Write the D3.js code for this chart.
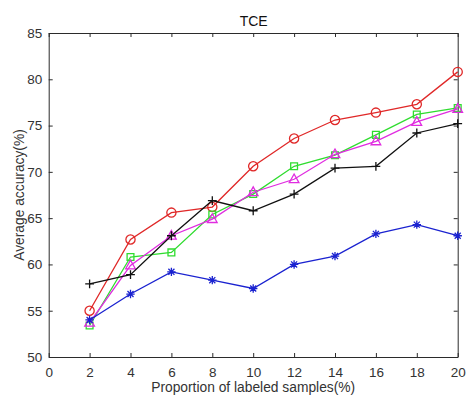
<!DOCTYPE html>
<html>
<head>
<meta charset="utf-8">
<script src="https://cdn.jsdelivr.net/npm/d3@7/dist/d3.min.js"></script>
<style>
  html, body { margin: 0; padding: 0; background: #fff; }
  svg { display: block; font-family: "Liberation Sans", Arial, sans-serif; }
</style>
</head>
<body>
<svg id="chart" width="468" height="399"></svg>
<script>
// Proportion of labeled samples (%)
const proportions = [2, 4, 6, 8, 10, 12, 14, 16, 18, 20];

// Average accuracy (%) for each method
const seriesRed     = [55.0, 62.7, 65.6, 66.2, 70.6, 73.6, 75.6, 76.4, 77.3, 80.8];
const seriesGreen   = [53.4, 60.8, 61.3, 65.4, 67.6, 70.6, 71.8, 74.0, 76.2, 76.9];
const seriesMagenta = [53.7, 59.9, 63.1, 64.9, 67.8, 69.2, 71.9, 73.3, 75.4, 76.8];
const seriesBlack   = [57.9, 58.9, 63.1, 66.9, 65.8, 67.6, 70.4, 70.6, 74.2, 75.2];
const seriesBlue    = [54.0, 56.8, 59.2, 58.3, 57.4, 60.0, 60.9, 63.3, 64.3, 63.1];

const xTicks = [0, 2, 4, 6, 8, 10, 12, 14, 16, 18, 20];
const yTicks = [50, 55, 60, 65, 70, 75, 80, 85];

const titleText = "TCE";
const xLabelText = "Proportion of labeled samples(%)";
const yLabelText = "Average accuracy(%)";

const svg = d3.select("#chart");
const box = { left: 48.7, right: 457.7, top: 33, bottom: 357 };

const x = d3.scaleLinear().domain([0, 20]).range([box.left, box.right]);
const y = d3.scaleLinear().domain([50, 85]).range([box.bottom, box.top]);

const axisColor = "#2b2b2b";
const textColor = "#333333";
const tickLen = 4;

// Axes with inward ticks on all four sides
const gBottom = svg.append("g").attr("transform", `translate(0,${box.bottom})`)
  .call(d3.axisBottom(x).tickValues(xTicks).tickFormat(d3.format("d"))
    .tickSizeInner(-tickLen).tickSizeOuter(0).tickPadding(10));
const gTop = svg.append("g").attr("transform", `translate(0,${box.top})`)
  .call(d3.axisTop(x).tickValues(xTicks).tickFormat("")
    .tickSizeInner(-tickLen).tickSizeOuter(0));
const gLeft = svg.append("g").attr("transform", `translate(${box.left},0)`)
  .call(d3.axisLeft(y).tickValues(yTicks).tickFormat(d3.format("d"))
    .tickSizeInner(-tickLen).tickSizeOuter(0).tickPadding(6.5));
const gRight = svg.append("g").attr("transform", `translate(${box.right},0)`)
  .call(d3.axisRight(y).tickValues(yTicks).tickFormat("")
    .tickSizeInner(-tickLen).tickSizeOuter(0));

[gBottom, gTop, gLeft, gRight].forEach(g => {
  g.select(".domain").attr("stroke", axisColor).attr("stroke-width", 1);
  g.selectAll(".tick line").attr("stroke", axisColor).attr("stroke-width", 1);
  g.selectAll(".tick text").attr("fill", textColor)
    .style("font-size", "13.5px").style("font-family", '"Liberation Sans", Arial, sans-serif');
});

// Marker path generators
const markers = {
  circle: s => { const r = s; return `M${-r},0a${r},${r} 0 1,0 ${2*r},0a${r},${r} 0 1,0 ${-2*r},0`; },
  square: s => `M${-s},${-s}H${s}V${s}H${-s}Z`,
  triangle: s => `M0,${-s*1.15}L${s*1.05},${s*0.75}L${-s*1.05},${s*0.75}Z`,
  plus: s => `M${-s},0H${s}M0,${-s}V${s}`,
  asterisk: s => {
    const d = s * 0.72;
    return `M${-s},0H${s}M0,${-s}V${s}M${-d},${-d}L${d},${d}M${-d},${d}L${d},${-d}`;
  }
};

const series = [
  { values: seriesRed,     color: "#e02828", marker: "circle",   size: 4.6 },
  { values: seriesGreen,   color: "#2fdc2f", marker: "square",   size: 3.4 },
  { values: seriesMagenta, color: "#e02ce0", marker: "triangle", size: 4.6 },
  { values: seriesBlack,   color: "#111111", marker: "plus",     size: 4.4 },
  { values: seriesBlue,    color: "#1a22d0", marker: "asterisk", size: 4.2 }
];

const line = d3.line().x((d, i) => x(proportions[i])).y(d => y(d));

const plot = svg.append("g");
series.forEach(s => {
  plot.append("path")
    .datum(s.values)
    .attr("d", line)
    .attr("fill", "none")
    .attr("stroke", s.color)
    .attr("stroke-width", 1.3);
  plot.selectAll(null)
    .data(s.values)
    .join("path")
    .attr("transform", (d, i) => `translate(${x(proportions[i])},${y(d)})`)
    .attr("d", markers[s.marker](s.size))
    .attr("fill", "none")
    .attr("stroke", s.color)
    .attr("stroke-width", 1.3);
});

// Title and axis labels
svg.append("text")
  .attr("x", (box.left + box.right) / 2 + 0.5)
  .attr("y", 26)
  .attr("text-anchor", "middle")
  .attr("fill", "#111")
  .style("font-size", "14px")
  .text(titleText);

svg.append("text")
  .attr("x", (box.left + box.right) / 2)
  .attr("y", 392)
  .attr("text-anchor", "middle")
  .attr("fill", textColor)
  .style("font-size", "13.8px")
  .text(xLabelText);

svg.append("text")
  .attr("transform", `translate(23.5,${(box.top + box.bottom) / 2}) rotate(-90)`)
  .attr("text-anchor", "middle")
  .attr("fill", textColor)
  .style("font-size", "13.8px")
  .text(yLabelText);
</script>
</body>
</html>
